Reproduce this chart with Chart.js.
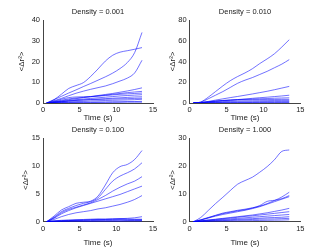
<!DOCTYPE html>
<html>
<head>
<meta charset="utf-8">
<script src="https://cdn.jsdelivr.net/npm/chart.js@4/dist/chart.umd.min.js"></script>
<style>
html,body{margin:0;padding:0;background:#fff;}
#wrap{position:relative;width:332px;height:250px;background:#fff;overflow:hidden;}
canvas{position:absolute;}
</style>
</head>
<body>
<div id="wrap">
<canvas id="c1" width="166" height="125" style="left:0;top:0"></canvas>
<canvas id="c2" width="166" height="125" style="left:166px;top:0"></canvas>
<canvas id="c3" width="166" height="125" style="left:0;top:125px"></canvas>
<canvas id="c4" width="166" height="125" style="left:166px;top:125px"></canvas>
</div>
<script>
// time samples (s)
const times = [0.5,1.5,2.5,3.5,4.5,5.5,6.5,7.5,8.5,9.5,10.5,11.5,12.5,13.5];

// Density = 0.001
const density001 = [
  [0,1.6,4.2,7.0,8.4,9.8,12.8,16.4,20.2,23.0,24.5,25.2,25.9,26.7],
  [0,1.6,3.2,4.8,6.3,7.9,9.4,11.0,12.6,14.4,16.6,19.5,24.3,34.0],
  [0,1.1,2.2,3.5,4.7,5.7,6.6,7.4,8.2,9.3,10.6,12.0,14.5,20.6],
  [0,0.5,1.0,1.6,2.1,2.6,3.1,3.6,4.1,4.6,5.2,5.8,6.5,7.3],
  [0,0.6,1.3,2.0,2.4,2.7,3.0,3.4,3.8,4.2,4.6,5.0,5.3,5.6],
  [0,0.8,1.8,2.6,2.9,3.0,3.1,3.3,3.6,3.9,4.2,4.4,4.6,4.8],
  [0,0.4,0.8,1.2,1.6,1.9,2.2,2.5,2.8,3.1,3.4,3.6,3.8,4.0],
  [0,0.3,0.6,0.9,1.2,1.4,1.7,1.9,2.1,2.3,2.5,2.7,2.9,3.0],
  [0,0.3,0.6,1.0,1.3,1.5,1.6,1.7,1.8,1.9,2.0,2.1,2.2,2.3],
  [0,0.2,0.4,0.5,0.7,0.8,1.0,1.1,1.2,1.3,1.4,1.5,1.6,1.8],
  [0,0.1,0.2,0.3,0.3,0.4,0.4,0.5,0.5,0.6,0.6,0.7,0.7,0.8],
  [0,0.05,0.1,0.1,0.15,0.2,0.2,0.25,0.3,0.3,0.35,0.4,0.4,0.4]
];

// Density = 0.010
const density010 = [
  [0,1.0,5.5,11,16.5,21.5,25.5,29,33,38,42.5,47.5,54,61],
  [0,0.8,4,7.5,11,15,19,22,24.5,27.5,30.5,34,37.5,41.8],
  [0,0.5,1.5,2.8,4.0,5.2,6.3,7.5,8.7,10,11.3,12.8,14.4,16],
  [0,0.3,0.9,1.5,2.1,2.7,3.3,3.9,4.5,5.1,5.6,6.2,6.8,7.5],
  [0,0.3,1.0,1.8,2.4,2.8,3.2,3.5,3.8,4.1,4.3,4.6,4.8,5.0],
  [0,0.4,1.2,2.0,2.5,2.8,3.0,3.1,3.2,3.3,3.4,3.4,3.5,3.5],
  [0,0.2,0.6,1.0,1.3,1.6,1.8,2.0,2.1,2.2,2.3,2.4,2.5,2.5],
  [0,0.1,0.3,0.5,0.7,0.9,1.0,1.1,1.2,1.3,1.4,1.4,1.5,1.5],
  [0,0.05,0.15,0.2,0.3,0.35,0.4,0.45,0.5,0.55,0.6,0.6,0.65,0.7],
  [0,0.02,0.05,0.07,0.09,0.1,0.12,0.13,0.15,0.16,0.17,0.18,0.19,0.2]
];

// Density = 0.100
const density100 = [
  [0,1.0,2.1,2.7,3.3,3.5,3.7,4.6,6.6,8.8,9.9,10.3,11.2,12.8],
  [0,0.8,1.8,2.4,2.9,3.3,3.6,4.3,5.8,7.3,8.2,8.8,9.5,10.6],
  [0,0.7,1.6,2.2,2.6,3.0,3.4,4.0,4.7,5.5,6.2,6.8,7.3,8.1],
  [0,0.6,1.4,2.0,2.5,2.9,3.3,3.7,4.1,4.5,4.9,5.4,5.9,6.4],
  [0,0.4,0.9,1.3,1.6,1.8,2.0,2.3,2.5,2.8,3.1,3.5,4.0,4.7],
  [0,0.1,0.15,0.2,0.25,0.3,0.35,0.4,0.45,0.5,0.55,0.6,0.7,0.9],
  [0,0.15,0.25,0.3,0.35,0.4,0.45,0.5,0.45,0.5,0.55,0.5,0.45,0.45],
  [0,0.1,0.2,0.25,0.3,0.3,0.35,0.35,0.4,0.4,0.4,0.35,0.35,0.35],
  [0,0.05,0.1,0.15,0.2,0.2,0.2,0.25,0.25,0.25,0.3,0.3,0.3,0.3],
  [0,0.05,0.05,0.1,0.1,0.1,0.1,0.15,0.15,0.15,0.15,0.2,0.2,0.2],
  [0,0.02,0.03,0.04,0.05,0.05,0.06,0.06,0.07,0.07,0.08,0.08,0.09,0.1]
];

// Density = 1.000
const density1000 = [
  [0,1.5,4.0,6.5,8.8,11.2,13.5,14.8,16.0,17.8,19.8,22.3,25.3,25.8],
  [0,0.7,1.5,2.3,3.1,3.6,4.1,4.5,5.0,5.6,6.5,7.6,8.9,10.6],
  [0,0.6,1.4,2.2,2.9,3.4,3.9,4.3,4.9,5.8,7.3,7.7,8.3,9.4],
  [0,0.6,1.3,2.0,2.6,3.1,3.6,4.1,4.7,5.4,6.3,7.2,8.1,9.0],
  [0,0.3,0.6,0.9,1.2,1.5,1.8,2.1,2.4,2.8,3.2,3.7,4.2,4.8],
  [0,0.3,0.6,0.8,1.1,1.3,1.6,1.9,2.1,2.4,2.7,3.0,3.3,3.6],
  [0,0.2,0.4,0.6,0.8,1.0,1.2,1.4,1.6,1.8,2.0,2.2,2.4,2.6],
  [0,0.15,0.3,0.45,0.6,0.7,0.85,1.0,1.1,1.25,1.4,1.5,1.6,1.8],
  [0,0.1,0.2,0.3,0.4,0.5,0.6,0.7,0.8,0.9,0.95,1.0,1.1,1.2],
  [0,0.05,0.1,0.15,0.2,0.25,0.3,0.35,0.4,0.45,0.5,0.55,0.6,0.7]
];

const titles = ['Density = 0.001','Density = 0.010','Density = 0.100','Density = 1.000'];
const yMaxes = [40, 80, 15, 30];
const yStepSizes = [10, 20, 5, 10];
const xTicks = [0, 5, 10, 15];
const xLabel = 'Time (s)';
const yLabel = '<\u0394r\u00B2>';

const FONT = 'Liberation Sans, Arial, Helvetica, sans-serif';
const TXT = '#222';
const AX = '#444';

// plot-area geometry in each canvas: left, right, top, bottom, title centre y, y-label centre x
const geom = [
  {L:43, R:153, T:20, B:103, tc:11.5, yl:21.5},
  {L:23.7, R:134.3, T:20, B:103, tc:11.5, yl:6.8},
  {L:43, R:153, T:13.3, B:96.7, tc:5.2, yl:26},
  {L:23.7, R:134.3, T:13.3, B:96.7, tc:5.2, yl:6.8}
];

const allData = [density001, density010, density100, density1000];

function makeChart(idx) {
  const g = geom[idx];
  const W = 166, H = 125;
  const tSize = 7.5, tlh = tSize * 1.2, lh = 9.6;
  const tTop = Math.max(0, g.tc - tlh/2);
  const tBot = Math.max(0, g.T - tTop - tlh);
  const datasets = allData[idx].map(series => ({
    data: series.map((v, i) => ({x: times[i], y: v})),
    borderColor: 'rgba(0,0,255,0.8)',
    borderWidth: 0.7,
    pointRadius: 0,
    fill: false,
    cubicInterpolationMode: 'monotone'
  }));
  new Chart(document.getElementById('c' + (idx + 1)), {
    type: 'line',
    data: {datasets},
    options: {
      responsive: false,
      animation: false,
      devicePixelRatio: 1,
      layout: {padding: {left: 0, right: W - g.R, top: 0, bottom: 0}},
      plugins: {
        legend: {display: false},
        tooltip: {enabled: false},
        title: {
          display: true,
          fullSize: false,
          align: 'center',
          text: titles[idx],
          color: TXT,
          font: {family: FONT, size: tSize, weight: 'normal', lineHeight: 1.2},
          padding: {top: tTop, bottom: tBot}
        }
      },
      scales: {
        x: {
          type: 'linear',
          min: 0, max: 15,
          afterFit: s => { s.height = H - g.B; },
          afterBuildTicks: s => { s.ticks = xTicks.map(v => ({value: v})); },
          grid: {display: false, drawTicks: false},
          border: {display: true, color: AX, width: 1},
          ticks: {color: TXT, font: {family: FONT, size: 7.5}, padding: 2.5, maxRotation: 0, autoSkip: false},
          title: {display: true, text: xLabel, color: TXT, font: {family: FONT, size: 8, lineHeight: 1.2}, padding: {top: 0, bottom: 2}}
        },
        y: {
          type: 'linear',
          min: 0, max: yMaxes[idx],
          afterFit: s => { s.width = g.L; },
          grid: {display: false, drawTicks: false},
          border: {display: true, color: AX, width: 1},
          ticks: {color: TXT, font: {family: FONT, size: 7.5}, padding: 3, stepSize: yStepSizes[idx]},
          title: {display: true, text: yLabel, color: TXT, font: {family: FONT, size: 8, lineHeight: 1.2}, padding: {top: g.yl - lh/2, bottom: 0}}
        }
      }
    }
  });
}
[0,1,2,3].forEach(makeChart);
</script>
</body>
</html>
